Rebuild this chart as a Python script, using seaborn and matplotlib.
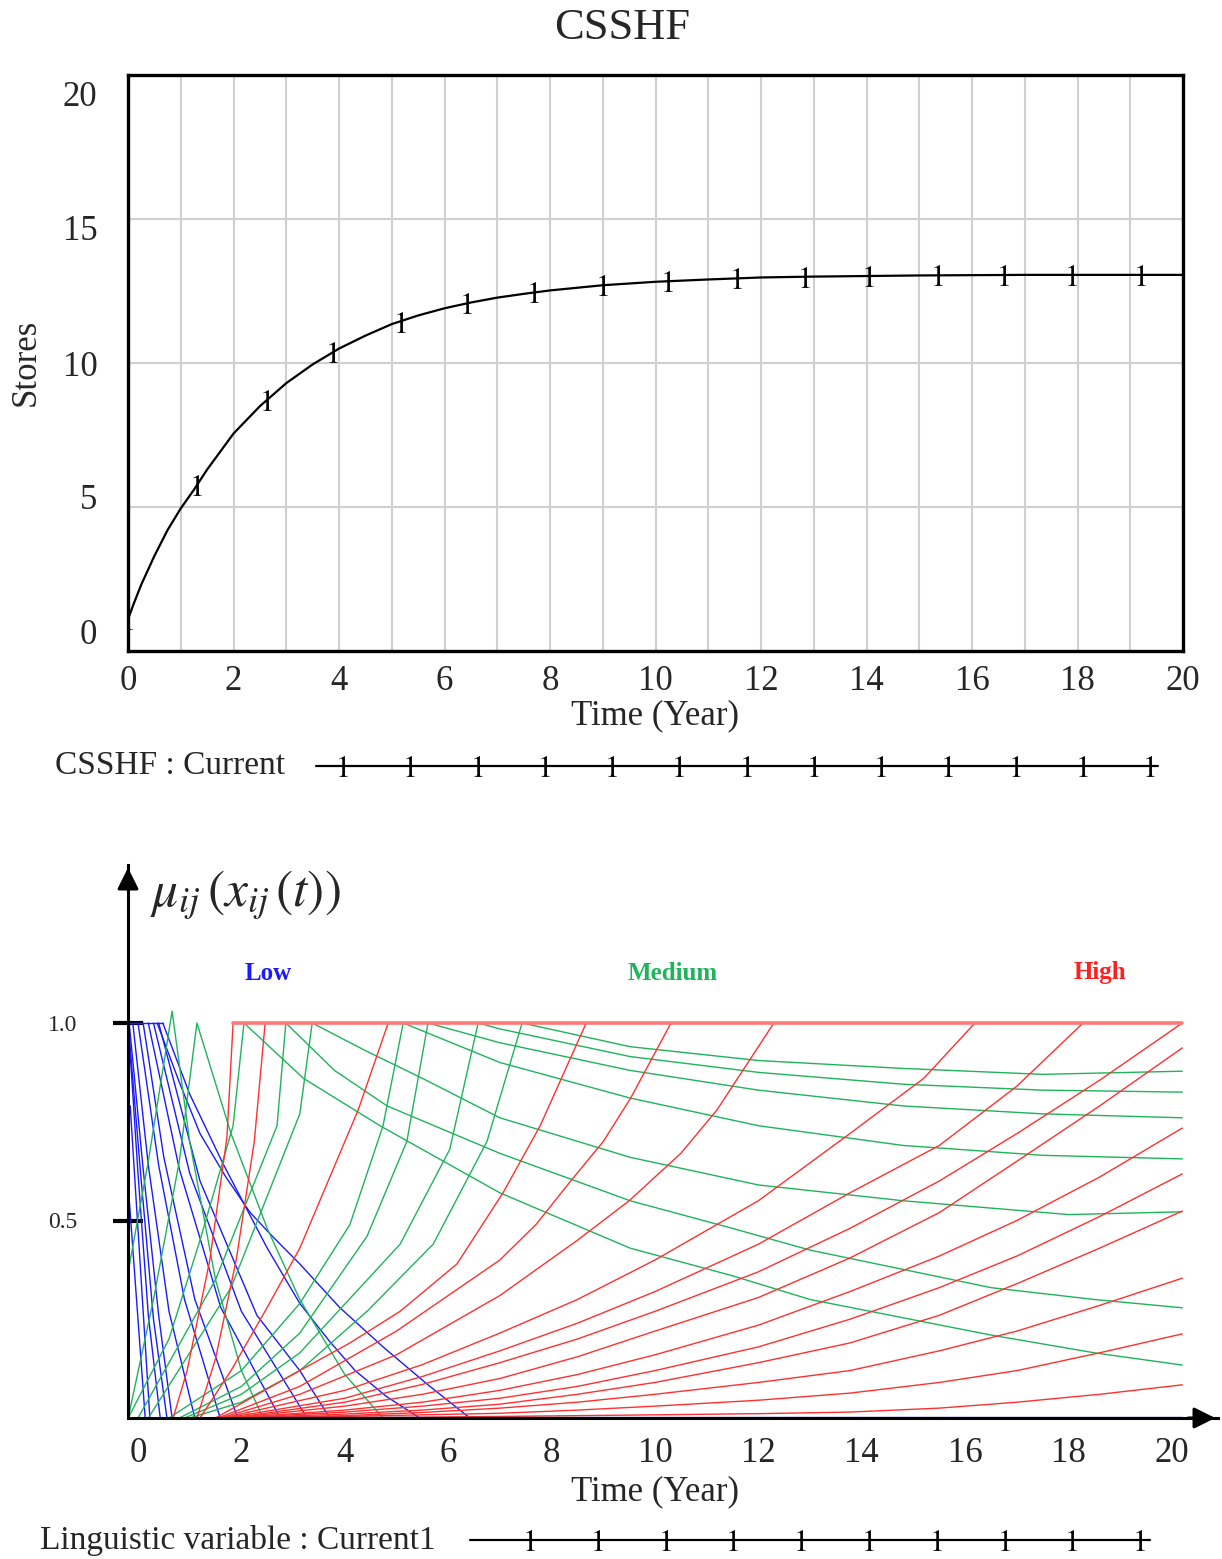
"""CSSHF stores over time and the fuzzy membership curves of the linguistic variable."""

import numpy as np
import pandas as pd
import matplotlib.pyplot as plt
from matplotlib.lines import Line2D
import seaborn as sns

# --- top panel: CSSHF (Current) ---
csshf_t = [0, 0.1, 0.25, 0.5, 0.75, 1.0, 1.25, 1.5, 2.0, 2.5, 3.0, 3.5, 4.0, 4.5, 5.0, 5.5,
           6.0, 6.5, 7.0, 7.5, 8.0, 9.0, 10.0, 11.0, 12.0, 13.0, 14.0, 15.0, 16.0, 17.0,
           18.0, 19.0, 20.0]
csshf_v = [1.1, 1.6, 2.3, 3.3, 4.2, 4.95, 5.6, 6.3, 7.55, 8.5, 9.3, 9.95, 10.5, 10.95, 11.35,
           11.65, 11.9, 12.1, 12.27, 12.4, 12.52, 12.7, 12.82, 12.9, 12.97, 13.0, 13.02,
           13.04, 13.05, 13.06, 13.06, 13.06, 13.06]
mark_t = [0, 1.31, 2.64, 3.89, 5.18, 6.43, 7.70, 9.0, 10.24, 11.55, 12.83, 14.05, 15.36,
          16.6, 17.9, 19.2]
mark_v = [1.1, 5.76, 8.72, 10.38, 11.42, 12.08, 12.45, 12.7, 12.84, 12.94, 13.0, 13.02,
          13.04, 13.05, 13.06, 13.06]
top_xticks = list(range(0, 21, 2))
top_ylabels = ['0', '5', '10', '15', '20']

# --- bottom panel: membership curves, one list per curve ---
low_x = [[-0.15, 0.23], [-0.19, 0.14], [-0.19, 0.0, 0.2, 0.43], [-0.19, 0.05, 0.3, 0.56],
         [-0.17, 0.1, 0.4, 0.66], [-0.1, 0.2, 0.6, 1.10], [0.0, 0.4, 0.9, 1.59],
         [0.1, 0.5, 1.1, 1.93], [0.2, 0.8, 1.6, 2.75], [0.3, 1.0, 2.0, 3.27],
         [0.4, 1.2, 2.3, 3.13, 3.71],
         [0.48, 1.0, 1.64, 2.1, 2.5, 3.13, 3.7, 4.2, 4.8, 5.45],
         [0.37, 0.8, 1.2, 1.7, 2.17, 2.6, 3.13, 3.9, 4.74, 5.6, 6.42],
         [-0.19, 0.48]]
low_y = [[0.79, 0], [0.59, 0], [1, 0.62, 0.26, 0], [1, 0.62, 0.25, 0],
         [1, 0.63, 0.26, 0], [1, 0.64, 0.27, 0], [1, 0.64, 0.3, 0],
         [1, 0.66, 0.3, 0], [1, 0.63, 0.28, 0], [1, 0.62, 0.27, 0],
         [1, 0.6, 0.26, 0.12, 0],
         [1, 0.82, 0.645, 0.53, 0.43, 0.29, 0.195, 0.12, 0.055, 0],
         [1, 0.85, 0.72, 0.61, 0.52, 0.46, 0.39, 0.28, 0.18, 0.085, 0],
         [1, 1]]

medium_x = [[-0.19, 0.2, 0.66, 1.0, 1.5, 2.0, 2.42],
            [-0.19, 0.3, 0.8, 1.14, 1.8, 2.5, 3.13, 4.0, 4.74],
            [-0.19, 0.6, 1.2, 1.84, 2.05, 3.2, 4.68, 7.0, 9.52, 11.5, 13.0, 16.5, 18.5, 20.2],
            [0.0, 1.5, 2.69, 2.86, 3.8, 4.82, 7.0, 9.52, 11.5, 13.0, 16.5, 18.5, 20.2],
            [0.2, 1.8, 3.13, 3.37, 4.4, 5.5, 7.0, 9.52, 12.0, 14.8, 18.0, 20.2],
            [0.6, 2.0, 3.13, 4.10, 4.74, 5.13, 7.0, 9.52, 12.0, 14.8, 17.5, 20.2],
            [0.8, 2.0, 3.13, 4.43, 5.2, 5.61, 7.0, 9.52, 12.0, 14.8, 17.5, 20.2],
            [0.9, 2.0, 3.13, 5.07, 6.03, 6.58, 7.0, 9.52, 12.0, 14.8, 17.5, 20.2],
            [1.0, 2.0, 3.13, 4.43, 5.71, 6.75, 7.43, 9.52, 12.0, 14.8, 17.5, 20.2]]
medium_y = [[0.37, 0.65, 1.03, 0.7, 0.35, 0.12, 0.0],
            [0.0, 0.3, 0.65, 1.0, 0.72, 0.48, 0.30, 0.11, 0.0],
            [0.0, 0.2, 0.45, 0.74, 1.0, 0.86, 0.74, 0.57, 0.43, 0.36, 0.30, 0.21, 0.165, 0.134],
            [0.0, 0.35, 0.74, 1.0, 0.88, 0.79, 0.67, 0.55, 0.48, 0.425, 0.33, 0.30, 0.279],
            [0.0, 0.33, 0.77, 1.0, 0.93, 0.86, 0.76, 0.66, 0.59, 0.55, 0.515, 0.522],
            [0.0, 0.12, 0.29, 0.49, 0.74, 1.0, 0.9, 0.81, 0.74, 0.69, 0.665, 0.656],
            [0.0, 0.08, 0.215, 0.46, 0.70, 1.0, 0.95, 0.88, 0.83, 0.79, 0.77, 0.76],
            [0.0, 0.06, 0.165, 0.44, 0.68, 1.0, 0.985, 0.915, 0.875, 0.845, 0.83, 0.825],
            [0.0, 0.04, 0.12, 0.27, 0.44, 0.70, 1.0, 0.94, 0.905, 0.885, 0.87, 0.878]]

late_x = [1.8, 4.0, 5.5, 7.0, 8.5, 10.0, 12.0, 13.77, 15.5, 17.0, 18.6, 20.2]
high_x = [[0.68, 0.95, 1.39, 1.72, 1.84], [1.14, 1.5, 1.9, 2.25, 2.46],
          [1.2, 1.8, 2.5, 3.13, 4.26, 4.84],
          [1.5, 3.13, 4.10, 5.07, 6.17, 7.06, 7.78, 8.67],
          [1.55, 3.13, 5.0, 7.0, 7.7, 8.37, 9.0, 9.53, 10.31],
          [1.6, 3.13, 5.0, 7.0, 8.5, 9.5, 10.5, 11.2, 12.3],
          [1.65, 4.0, 5.5, 7.0, 8.5, 10.0, 12.0, 13.77, 15.2, 16.19],
          [1.7, 4.0, 5.5, 7.0, 8.5, 10.0, 12.0, 13.77, 15.5, 17.0, 18.28],
          late_x, late_x, late_x, late_x, late_x, late_x, late_x, late_x]
high_y = [[0, 0.12, 0.40, 0.71, 1.0], [0, 0.15, 0.40, 0.70, 1.0],
          [0, 0.12, 0.28, 0.43, 0.78, 1.0],
          [0, 0.12, 0.19, 0.27, 0.39, 0.57, 0.74, 1.0],
          [0, 0.08, 0.22, 0.40, 0.49, 0.60, 0.70, 0.81, 1.0],
          [0, 0.06, 0.16, 0.31, 0.45, 0.55, 0.67, 0.78, 1.0],
          [0, 0.07, 0.135, 0.215, 0.30, 0.40, 0.55, 0.72, 0.86, 1.0],
          [0, 0.05, 0.105, 0.17, 0.24, 0.32, 0.44, 0.57, 0.69, 0.84, 1.0],
          [0, 0.04, 0.085, 0.14, 0.2, 0.27, 0.37, 0.48, 0.6, 0.72, 0.855, 1.0],
          [0, 0.03, 0.06, 0.10, 0.155, 0.22, 0.305, 0.405, 0.52, 0.65, 0.79, 0.937],
          [0, 0.02, 0.04, 0.07, 0.11, 0.16, 0.235, 0.32, 0.41, 0.50, 0.61, 0.734],
          [0, 0.015, 0.03, 0.05, 0.08, 0.12, 0.18, 0.25, 0.33, 0.41, 0.51, 0.618],
          [0, 0.01, 0.02, 0.035, 0.06, 0.09, 0.14, 0.19, 0.26, 0.34, 0.43, 0.524],
          [0, 0.006, 0.014, 0.025, 0.04, 0.06, 0.09, 0.12, 0.17, 0.22, 0.285, 0.354],
          [0, 0.004, 0.008, 0.012, 0.02, 0.03, 0.045, 0.063, 0.09, 0.12, 0.165, 0.213],
          [0, 0.001, 0.002, 0.004, 0.006, 0.008, 0.011, 0.015, 0.025, 0.04, 0.06, 0.084]]

high_cap_x = [1.84, 20.2]
high_cap_y = [1.0, 1.0]
low_floor_x = [2.4, 20.2]
low_floor_y = [0.0, 0.0]
bottom_xticks = list(range(0, 21, 2))
bottom_yticks = [0.5, 1.0]

sns.set_theme(style='white')
plt.rcParams['font.family'] = ['Liberation Serif', 'DejaVu Serif']
plt.rcParams['mathtext.fontset'] = 'stix'

W, H = 1222, 1559
fig = plt.figure(figsize=(W / 100, H / 100), dpi=100)


def fx(px):
    return px / W


def fy(py):
    return 1 - py / H


### Top panel ###
ax1 = fig.add_axes([fx(128), fy(651), fx(1183) - fx(128), fy(75) - fy(651)])
for g in range(1, 20):
    ax1.axvline(g, color='#d0d0d0', lw=1.5, zorder=0)
for g in (5, 10, 15):
    ax1.axhline(g, color='#d0d0d0', lw=1.5, zorder=0)
sns.lineplot(x=csshf_t, y=csshf_v, color='black', lw=1.6, ax=ax1)
ax1.plot(mark_t, mark_v, ls='none', marker='$1$', ms=15, mew=0, color='black')
ax1.set_xlim(0, 20)
ax1.set_ylim(0, 20)
ax1.set_xticks(top_xticks)
ax1.set_xticklabels([str(t) for t in top_xticks])
# Vensim spreads the value labels a bit tighter than the grid
ax1.set_yticks([0.66, 5.35, 10, 14.69, 19.375])
ax1.set_yticklabels(top_ylabels)
ax1.tick_params(length=0, labelsize=25, pad=10)
ax1.tick_params(axis='y', pad=22)
ax1.set_xlabel('')
ax1.set_ylabel('')
for s in ax1.spines.values():
    s.set_color('black')
    s.set_linewidth(2.4)
fig.text(fx(622), fy(28), 'CSSHF', fontsize=32, ha='center', va='center')
fig.text(fx(655), fy(716), 'Time (Year)', fontsize=25, ha='center', va='center')
fig.text(fx(26), fy(362), 'Stores', fontsize=25, rotation=90, ha='center', va='center')

# legend strip
fig.text(fx(55), fy(766), 'CSSHF : Current', fontsize=24, ha='left', va='center')
fig.add_artist(Line2D([fx(316), fx(1158)], [fy(766)] * 2, color='black', lw=1.6,
                      transform=fig.transFigure))
fig.add_artist(Line2D([fx(343 + 67.25 * k) for k in range(13)], [fy(766)] * 13, ls='none',
                      marker='$1$', ms=15, mew=0, color='black', transform=fig.transFigure))

### Bottom panel ###
ax2 = fig.add_axes([fx(128), fy(1418), fx(1218) - fx(128), fy(865) - fy(1418)])
rows = []
for fam, xs, ys in (('Low', low_x, low_y), ('Medium', medium_x, medium_y), ('High', high_x, high_y)):
    for i, (cx, cy) in enumerate(zip(xs, ys)):
        for a, b in zip(cx, cy):
            rows.append({'x': a, 'y': b, 'family': fam, 'curve': f'{fam}{i}'})
df = pd.DataFrame(rows)
palette = {'Low': '#1a1aff', 'Medium': '#1fb35c', 'High': '#ff3030'}
sns.lineplot(data=df, x='x', y='y', hue='family', units='curve', estimator=None, sort=False,
             palette=palette, lw=1.0, legend=False, ax=ax2)
sns.lineplot(x=high_cap_x, y=high_cap_y, color='#ff7777', lw=2.6, ax=ax2)
sns.lineplot(x=low_floor_x, y=low_floor_y, color='#1530b0', lw=2.4, ax=ax2)

ax2.set_xlim(-0.193, 20.89)
ax2.set_ylim(0, 1.40)
ax2.set_xticks(bottom_xticks)
ax2.set_xticklabels([str(t) for t in bottom_xticks])
ax2.set_yticks(bottom_yticks)
ax2.set_yticklabels(['0.5', '1.0'])
ax2.tick_params(axis='x', length=0, labelsize=25, pad=14)
ax2.tick_params(axis='y', direction='inout', length=21, width=3, labelsize=17, pad=26,
                color='black', left=True)
ax2.set_xlabel('')
ax2.set_ylabel('')
for side in ('top', 'right'):
    ax2.spines[side].set_visible(False)
for side in ('left', 'bottom'):
    ax2.spines[side].set_color('black')
    ax2.spines[side].set_linewidth(2.2)
ax2.annotate('', xy=(0, 1), xytext=(0, 0.95), xycoords='axes fraction',
             arrowprops=dict(arrowstyle='-|>', mutation_scale=32, color='black', lw=2.2),
             annotation_clip=False)
ax2.annotate('', xy=(1, 0), xytext=(0.97, 0), xycoords='axes fraction',
             arrowprops=dict(arrowstyle='-|>', mutation_scale=32, color='black', lw=2.2),
             annotation_clip=False)

fig.text(fx(150), fy(895), r'$\mu_{ij}\,(x_{ij}\,(t))$', fontsize=37, ha='left', va='center')
fig.text(fx(268), fy(973), 'Low', fontsize=18, fontweight='bold', color='#1a1aff',
         ha='center', va='center')
fig.text(fx(673), fy(973), 'Medium', fontsize=18, fontweight='bold', color='#1fb35c',
         ha='center', va='center')
fig.text(fx(1100), fy(973), 'High', fontsize=18, fontweight='bold', color='#ff2020',
         ha='center', va='center')
fig.text(fx(655), fy(1492), 'Time (Year)', fontsize=25, ha='center', va='center')

fig.text(fx(40), fy(1540), 'Linguistic variable : Current1', fontsize=24, ha='left',
         va='center')
fig.add_artist(Line2D([fx(470), fx(1150)], [fy(1540)] * 2, color='black', lw=1.6,
                      transform=fig.transFigure))
fig.add_artist(Line2D([fx(530 + 67.8 * k) for k in range(10)], [fy(1540)] * 10, ls='none',
                      marker='$1$', ms=15, mew=0, color='black', transform=fig.transFigure))

plt.savefig('out.png', dpi=100)
